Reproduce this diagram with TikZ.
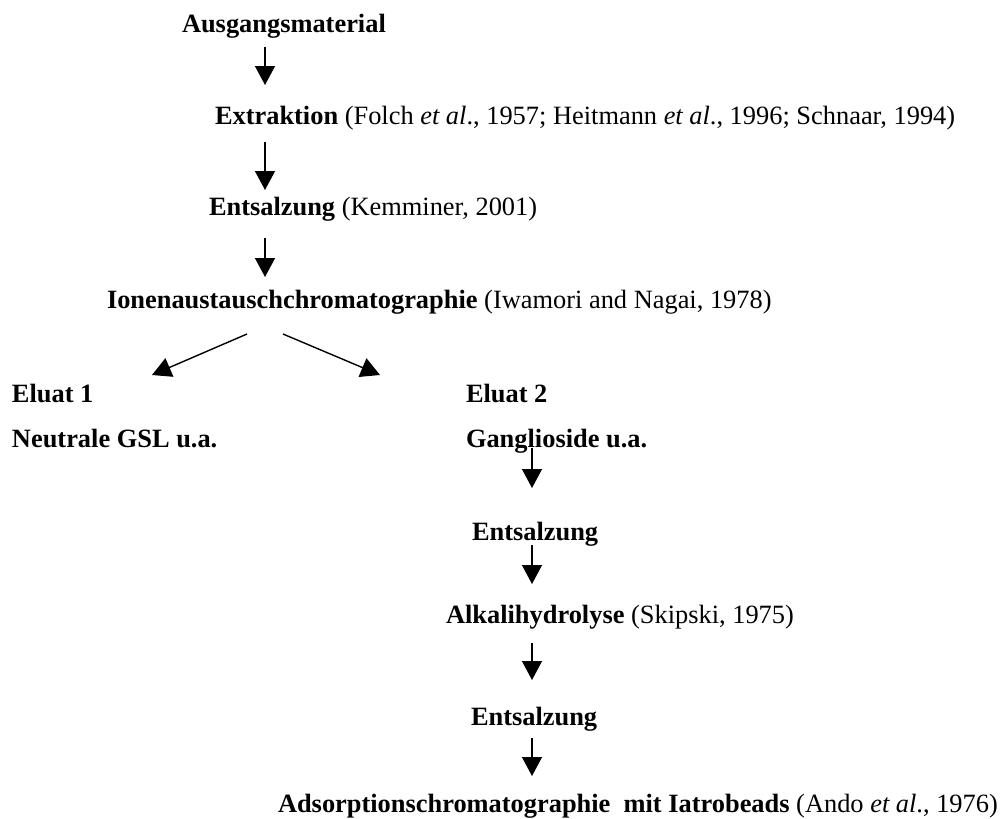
\documentclass[tikz,border=0pt]{standalone}
\usepackage{fontspec}
\setmainfont{Liberation Serif}
\usetikzlibrary{arrows.meta}
\begin{document}
\begin{tikzpicture}[x=1pt,y=-1pt,
  lbl/.style={anchor=base west,inner sep=0pt,outer sep=0pt,font=\fontsize{26.4}{30}\selectfont},
  arr/.style={line width=1.4pt,-{Triangle[length=19pt,width=20pt]}}]
\useasboundingbox (0,0) rectangle (1007,819);
% texts
\node[lbl] (aus) at (182,32) {\textbf{Ausgangsmaterial}};
\node[lbl] (ext) at (215,124) {\textbf{Extraktion} (Folch \textit{et al}., 1957; Heitmann \textit{et al}., 1996; Schnaar, 1994)};
\node[lbl] (ent1) at (209,215) {\textbf{Entsalzung} (Kemminer, 2001)};
\node[lbl] (ion) at (107,308) {\textbf{Ionenaustauschchromatographie} (Iwamori and Nagai, 1978)};
\node[lbl] (el1) at (12,402) {\textbf{Eluat 1}};
\node[lbl] (neu) at (12,447) {\textbf{Neutrale GSL u.a.}};
\node[lbl] (el2) at (466,402) {\textbf{Eluat 2}};
\node[lbl] (gan) at (466,447) {\textbf{Ganglioside u.a.}};
\node[lbl] (ent2) at (472,540) {\textbf{Entsalzung}};
\node[lbl] (alk) at (446,623) {\textbf{Alkalihydrolyse} (Skipski, 1975)};
\node[lbl] (ent3) at (471,725) {\textbf{Entsalzung}};
\node[lbl] (ads) at (278,812) {\textbf{Adsorptionschromatographie\ \ mit Iatrobeads} (Ando \textit{et al}., 1976)};
% arrow end points
\coordinate (a1s) at (265,47);  \coordinate (a1e) at (265,85);
\coordinate (a2s) at (265,142); \coordinate (a2e) at (265,190);
\coordinate (a3s) at (265,238); \coordinate (a3e) at (265,277);
\coordinate (dls) at (247,334); \coordinate (dle) at (152,375);
\coordinate (drs) at (283,334); \coordinate (dre) at (380,375);
\coordinate (b1s) at (532,448); \coordinate (b1e) at (532,488);
\coordinate (b2s) at (532,545); \coordinate (b2e) at (532,584);
\coordinate (b3s) at (532,643); \coordinate (b3e) at (532,680);
\coordinate (b4s) at (532,738); \coordinate (b4e) at (532,776);
% arrows
\draw[arr] (a1s) -- (a1e);
\draw[arr] (a2s) -- (a2e);
\draw[arr] (a3s) -- (a3e);
\draw[arr] (dls) -- (dle);
\draw[arr] (drs) -- (dre);
\draw[arr] (b1s) -- (b1e);
\draw[arr] (b2s) -- (b2e);
\draw[arr] (b3s) -- (b3e);
\draw[arr] (b4s) -- (b4e);
\end{tikzpicture}
\end{document}
